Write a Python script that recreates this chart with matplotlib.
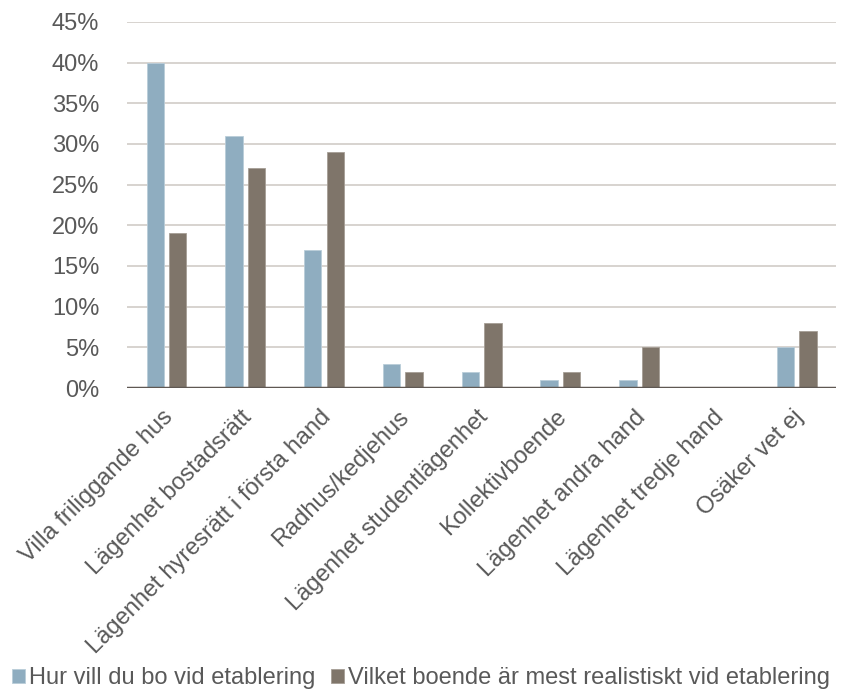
import matplotlib.pyplot as plt
import numpy as np

plt.rcParams['font.family'] = ['Liberation Sans', 'DejaVu Sans']

# boendeformer
categories = ["Villa friliggande hus", "Lägenhet bostadsrätt",
              "Lägenhet hyresrätt i första hand", "Radhus/kedjehus",
              "Lägenhet studentlägenhet", "Kollektivboende",
              "Lägenhet andra hand", "Lägenhet tredje hand", "Osäker vet ej"]
vill = [40, 31, 17, 3, 2, 1, 1, 0, 5]
realistiskt = [19, 27, 29, 2, 8, 2, 5, 0, 7]
series_names = ["Hur vill du bo vid etablering",
                "Vilket boende är mest realistiskt vid etablering"]

blue = '#8FADC0'
brown = '#7F756A'
txt = '#595959'
fs = 17

fig = plt.figure(figsize=(8.42, 7), dpi=100)
ax = fig.add_axes([0.151, 0.4457, 0.842, 0.523])

x = np.arange(len(categories))
w = 0.22
ax.bar(x - 0.143, vill, w, color=blue, edgecolor='#B9CDD9', linewidth=0.6,
       label=series_names[0], zorder=3)
ax.bar(x + 0.143, realistiskt, w, color=brown, edgecolor='#A69E96', linewidth=0.6,
       label=series_names[1], zorder=3)

ax.set_xlim(-0.5, len(categories) - 0.5)
ax.set_ylim(0, 45)
ax.set_yticks(np.arange(0, 46, 5))
ax.set_yticklabels([f"{v}%" for v in range(0, 46, 5)])
ax.yaxis.grid(True, color='#D4D0CB', linewidth=1.3, zorder=0)
ax.axhline(0, color='#5F5853', linewidth=2.5, zorder=4)

for s in ax.spines.values():
    s.set_visible(False)
ax.tick_params(axis='both', length=0, labelsize=fs, colors=txt)
ax.tick_params(axis='y', pad=20)

ax.set_xticks(x - 0.06)
ax.set_xticklabels(categories, rotation=45, ha='right', va='top',
                   rotation_mode='anchor')
ax.tick_params(axis='x', pad=13)

leg = fig.legend(loc='lower center', bbox_to_anchor=(0.5, 0.0), ncol=2,
                 frameon=False, fontsize=fs, handlelength=0.55, handleheight=0.55,
                 handletextpad=0.15, columnspacing=0.7, borderaxespad=0.05)
for t in leg.get_texts():
    t.set_color(txt)

fig.savefig('out.png', dpi=100)
